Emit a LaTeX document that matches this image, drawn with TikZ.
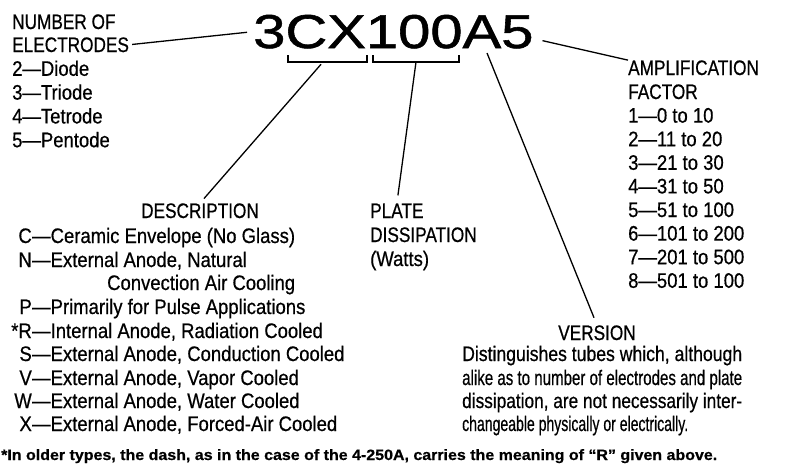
\documentclass[tikz,border=0pt]{standalone}
\usepackage{fontspec}
\usepackage{graphicx}
\setmainfont{Liberation Sans}[FakeStretch=0.88,FakeBold=0.6]
\newfontfamily\capsfont{Liberation Sans}[FakeStretch=0.82,FakeBold=0.6]
\newfontfamily\codefont{Liberation Sans}[FakeStretch=1.22,FakeBold=1.2]
\newcommand\lblsize{\fontsize{21}{24}\selectfont}
\newcommand\codesize{\codefont\fontsize{47.5}{48}\selectfont}
\newcommand\notesize{\fontsize{15}{16}\selectfont}

\tikzset{
  lbl/.style={inner sep=0pt,anchor=base west,font=\lblsize},
  head/.style={lbl,font=\lblsize\capsfont},
  lead/.style={line width=1.3pt,shorten >=6pt,shorten <=3pt},
  brack/.style={line width=1.3pt},
}

\begin{document}
\begin{tikzpicture}[x=1pt,y=-1pt]
    \useasboundingbox (0,0) rectangle (791,463);
    \node[inner sep=0pt,anchor=base west,font=\codesize] (code) at (253,48) {3CX100A5};

    % number of electrodes
    \node[head] (num) at (12,29) {NUMBER OF};
    \node[head] (elec) at (12,52) {ELECTRODES};
    \foreach \t [count=\i] in {2—Diode,3—Triode,4—Tetrode,5—Pentode}
        \node[lbl] (el\i) at (12,52+23.8*\i) {\t};

    % brackets under the code
    \draw[brack] (288,55) |- (367,62) -- (367,55);
    \draw[brack] (373,55) |- (459,62) -- (459,55);
    \coordinate (brcx) at (323,62);
    \coordinate (brpd) at (416,62);
    \coordinate (vera) at (487,53);

    % description
    \node[head,anchor=base] (desc) at (200,218) {DESCRIPTION};
    \foreach \k/\t/\y [count=\i] in {C/{Ceramic Envelope (No Glass)}/243,
        N/{External Anode, Natural}/267,
        P/{Primarily for Pulse Applications}/314,
        *R/{Internal Anode, Radiation Cooled}/338,
        S/{External Anode, Conduction Cooled}/361,
        V/{External Anode, Vapor Cooled}/385,
        W/{External Anode, Water Cooled}/408,
        X/{External Anode, Forced-Air Cooled}/431}
    {
        \node[lbl,anchor=base east] (dk\i) at (32,\y) {\k};
        \node[lbl] (dt\i) at (dk\i.base east) {—\t};
    }
    \node[lbl] (conv) at (107,290) {Convection Air Cooling};

    % plate dissipation
    \node[head] (plate) at (370,218) {PLATE};
    \node[head] (diss) at (370,242) {DISSIPATION};
    \node[lbl] (watts) at (370,266) {(Watts)};

    % amplification factor
    \node[head] (amp) at (628,75) {AMPLIFICATION};
    \node[head] (fac) at (628,99) {FACTOR};
    \foreach \t [count=\i] in {0 to 10,11 to 20,21 to 30,31 to 50,51 to 100,
        101 to 200,201 to 500,501 to 100}
        \node[lbl] (af\i) at (628,99+23.6*\i) {\i—\t};

    % version
    \node[head,anchor=base] (ver) at (597,340) {VERSION};
    \node[lbl] (vp1) at (462,361) {\resizebox{280pt}{\height}{Distinguishes tubes which, although}};
    \node[lbl] (vp2) at (462,385) {\resizebox{280pt}{\height}{alike as to number of electrodes and plate}};
    \node[lbl] (vp3) at (462,408) {\resizebox{280pt}{\height}{dissipation, are not necessarily inter-}};
    \node[lbl] (vp4) at (462,431) {\resizebox{226pt}{\height}{changeable physically or electrically.}};

    % footnote
    \node[lbl,font=\notesize\bfseries] (note) at (1,460) {\resizebox{716pt}{\height}{*In older types, the dash, as in the case of the 4-250A, carries the meaning of ``R'' given above.}};

    % leaders
    \draw[lead] (elec.east) -- (code.west);
    \draw[lead,shorten >=0pt,shorten <=9pt] ([yshift=-7pt]code.east) -- (amp.north west);
    \draw[lead] (brcx) -- (desc.north);
    \draw[lead,shorten >=8pt,shorten <=0pt] (brpd) -- (plate.north);
    \draw[lead,shorten >=8pt,shorten <=0pt] (vera) -- (ver.north);
\end{tikzpicture}
\end{document}
